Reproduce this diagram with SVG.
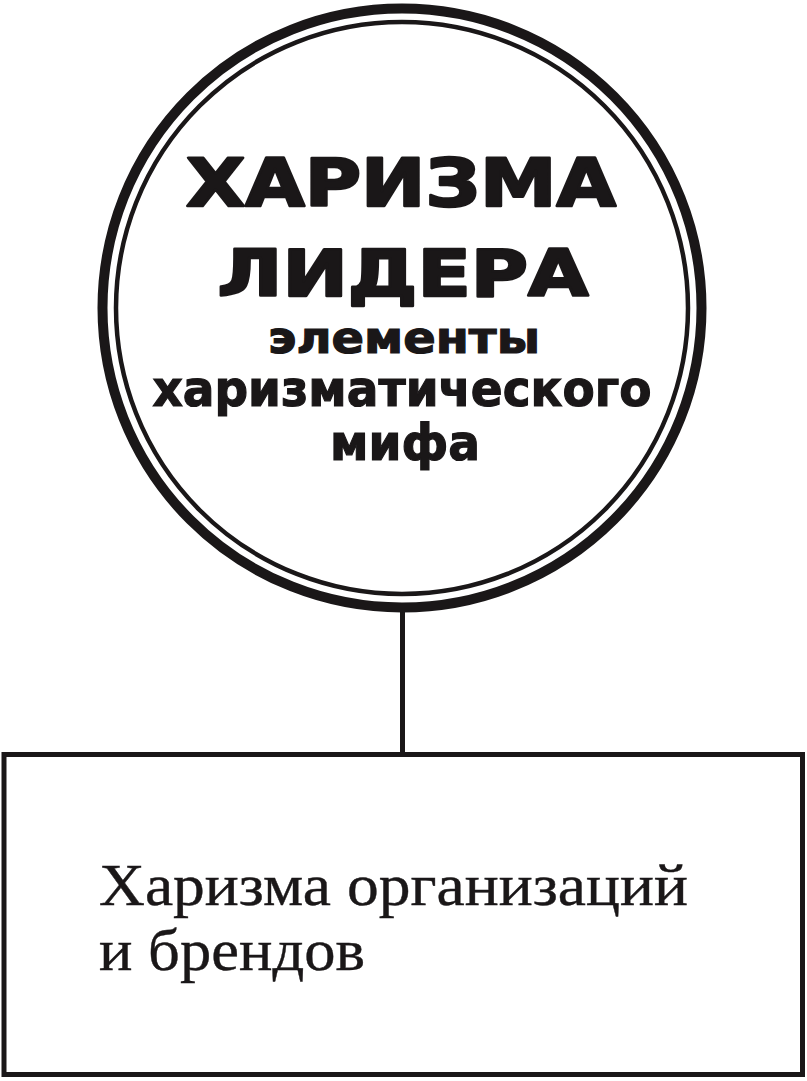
<svg xmlns="http://www.w3.org/2000/svg" width="807" height="1081" viewBox="0 0 807 1081">
<style>
.title{font-family:"DejaVu Sans","Liberation Sans",sans-serif;font-weight:900;fill:#1a1718;stroke:#1a1718;stroke-width:2.5;stroke-linejoin:round;text-anchor:middle}
.sub{font-family:"DejaVu Sans","Liberation Sans",sans-serif;font-weight:700;fill:#1a1718;stroke:#1a1718;stroke-width:1.2;text-anchor:middle}
.body{font-family:"Liberation Serif","DejaVu Serif",serif;fill:#1a1718;stroke:#1a1718;stroke-width:0.4}
.ln{stroke:#1a1718;fill:none}
</style>
<rect width="807" height="1081" fill="#ffffff"/>
<g id="connectors">
<line class="ln" x1="402.5" y1="612" x2="402.5" y2="754" stroke-width="5"/>
</g>
<g id="node-circle">
<circle class="ln" cx="402" cy="308" r="299.5" stroke-width="10"/>
<circle class="ln" cx="402" cy="308" r="286" stroke-width="4.5"/>
<text class="title" x="401" y="206" font-size="66" textLength="430" lengthAdjust="spacingAndGlyphs">ХАРИЗМА</text>
<text class="title" x="403" y="296" font-size="64" textLength="371" lengthAdjust="spacingAndGlyphs">ЛИДЕРА</text>
<text class="sub" x="404" y="353" font-size="44" textLength="272" lengthAdjust="spacingAndGlyphs">элементы</text>
<text class="sub" x="402" y="406" font-size="50" textLength="499" lengthAdjust="spacingAndGlyphs">харизматического</text>
<text class="sub" x="405" y="460" font-size="50" textLength="150" lengthAdjust="spacingAndGlyphs">мифа</text>
</g>
<g id="node-box">
<rect class="ln" x="4" y="754.5" width="798.5" height="320" stroke-width="5"/>
<text class="body" x="99" y="905" font-size="60" textLength="589" lengthAdjust="spacingAndGlyphs">Харизма организаций</text>
<text class="body" x="99" y="970" font-size="60" textLength="266" lengthAdjust="spacingAndGlyphs">и брендов</text>
</g>
</svg>
